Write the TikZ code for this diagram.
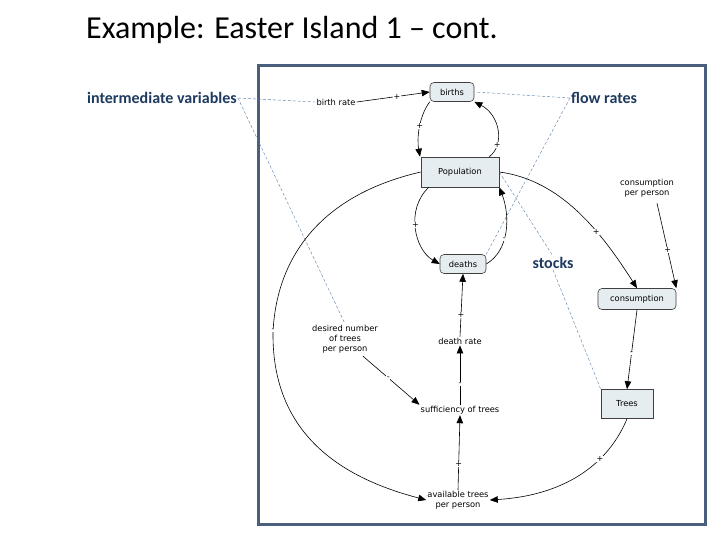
\documentclass[tikz,border=0pt]{standalone}
\usepackage{fontspec}
\setmainfont{Carlito}
\newfontfamily\dv{DejaVu Sans}
\usetikzlibrary{arrows.meta}
\definecolor{frame}{HTML}{4A5F7E}
\definecolor{lab}{HTML}{1F3A60}
\definecolor{boxf}{HTML}{E6EDF1}
\definecolor{dashc}{HTML}{5A7FA8}
\begin{document}
\begin{tikzpicture}[x=1pt,y=-1pt,
  sm/.style={font=\dv\fontsize{8.3}{10}\selectfont,align=center,inner sep=1pt},
  box/.style={sm,draw=black!75,fill=boxf,line width=0.6pt},
  rbox/.style={box,rounded corners=4pt},
  big/.style={font=\fontsize{16}{18}\selectfont\bfseries,text=lab,inner sep=1pt},
  ar/.style={-{Triangle[length=8pt,width=6.5pt]},line width=0.6pt},
  sg/.style={font=\dv\fontsize{8}{8}\selectfont,fill=white,inner sep=0.5pt},
  dl/.style={draw=dashc,densely dashed,line width=0.4pt}]
\useasboundingbox (0,0) rectangle (720,540);
\fill[white] (0,0) rectangle (720,540);
\node[anchor=base west,font=\fontsize{32}{36}\selectfont,inner sep=0] (title) at (86,39) {Example: Easter Island 1 – cont.};
\draw[frame,line width=3pt] (258,66) rectangle (705,524);
\node[rbox,minimum width=44pt,minimum height=19pt] (births) at (452,92) {births};
\node[sm] (br) at (336,102) {birth rate};
\node[box,minimum width=78pt,minimum height=30pt] (pop) at (460,172) {Population};
\node[rbox,minimum width=46pt,minimum height=19pt] (deaths) at (463,264) {deaths};
\node[sm] (cpp) at (647,188) {consumption\\per person};
\node[rbox,minimum width=78pt,minimum height=21pt] (cons) at (637,299) {consumption};
\node[box,minimum width=52pt,minimum height=29pt] (trees) at (627,404) {Trees};
\node[sm] (dr) at (460,341) {death rate};
\node[sm] (des) at (345,339) {desired number\\of trees\\per person};
\node[sm] (suf) at (460,410) {sufficiency of trees};
\node[sm] (av) at (458,500) {available trees\\per person};
\node[big,anchor=west] (iv) at (86,98) {intermediate variables};
\node[big,anchor=west] (fr) at (570,98) {flow rates};
\node[big] (st) at (553,263) {stocks};
% dashed guides
\draw[dl] (iv.east) -- (br.west);
\draw[dl] (iv.east) -- (des.north);
\draw[dl] (fr.west) -- (births.east);
\draw[dl] (fr.west) -- (deaths.north east);
\draw[dl] (pop.east) -- (st.north);
\draw[dl] (st.south) -- (trees.north west);
% connectors
\draw[ar] (br.east) -- node[sg,pos=0.55]{+} (births.west);
\draw[ar] (births.south west) .. controls (418,118) and (417,140) .. node[sg,pos=0.45]{+} (pop.north west -| 420,0);
\draw[ar] (pop.north east) ++(-10,0) .. controls (505,145) and (500,115) .. node[sg,pos=0.25]{+} (births.south east);
\draw[ar] (pop.south west) ++(8,0) .. controls (405,210) and (415,250) .. node[sg,pos=0.45]{+} (deaths.west);
\draw[ar] (deaths.east) .. controls (510,250) and (510,215) .. node[sg,pos=0.4]{-} (pop.south east);
\draw[ar] (pop.east) .. controls (560,180) and (600,230) .. node[sg,pos=0.65]{+} (cons.north);
\draw[ar] (cpp.south) ++(10,5) -- node[sg,pos=0.55]{+} (cons.north east);
\draw[ar] (cons.south) -- node[sg,pos=0.55]{-} (trees.north);
\draw[ar] (trees.south) .. controls (610,460) and (570,495) .. node[sg,pos=0.35]{+} (av.east);
\draw[ar] (pop.west) .. controls (300,200) and (275,280) .. node[sg,pos=0.98]{-} (273,333) .. controls (272,440) and (350,480) .. (av.west);
\draw[ar] (des.south) ++(18,2) -- node[sg,pos=0.45]{-} (suf.north west);
\draw[ar] (av.north) -- node[sg,pos=0.35]{+} (suf.south);
\draw[ar] (suf.north) -- node[sg,pos=0.35]{-} (dr.south);
\draw[ar] (dr.north) -- node[sg,pos=0.35]{+} (deaths.south);
\end{tikzpicture}
\end{document}
